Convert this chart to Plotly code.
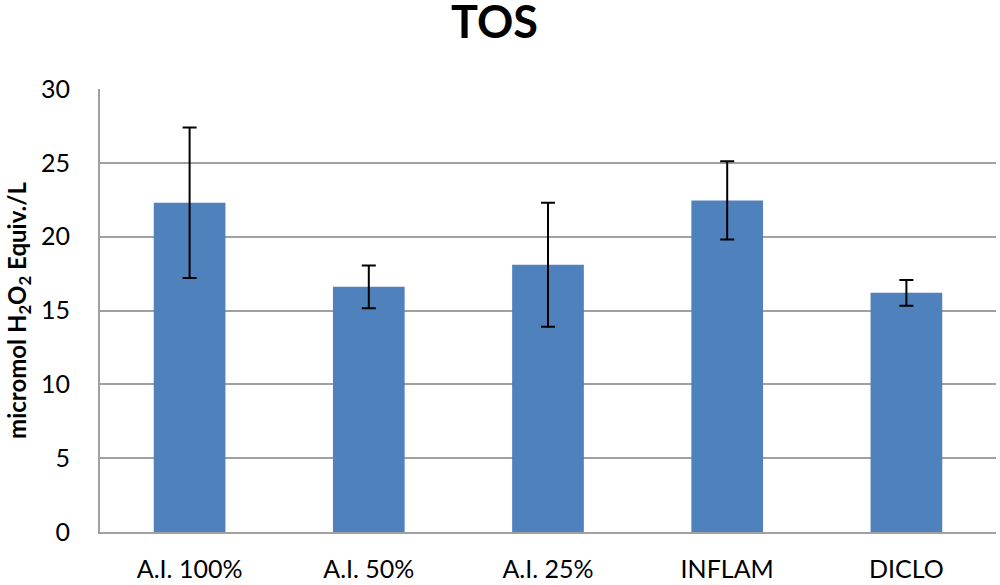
import plotly.graph_objects as go

groups = ['A.I. 100%', 'A.I. 50%', 'A.I. 25%', 'INFLAM', 'DICLO']
tos_mean = [22.3, 16.6, 18.1, 22.45, 16.2]
tos_err = [5.1, 1.45, 4.2, 2.65, 0.87]

fig = go.Figure()
fig.add_trace(go.Bar(
    x=groups,
    y=tos_mean,
    marker=dict(color='#4F81BD', line=dict(width=0)),
    error_y=dict(type='data', array=tos_err, color='black', thickness=2, width=7),
))

fig.update_layout(
    width=1000, height=585,
    margin=dict(l=100, r=4, t=89, b=53),
    paper_bgcolor='white',
    plot_bgcolor='white',
    font=dict(family='Lato, Open Sans, sans-serif', color='black'),
    title=dict(text='<b>TOS</b>', x=0.4945, xanchor='center', y=0.962, yanchor='middle',
               font=dict(size=45, color='black')),
    bargap=0.6,
    showlegend=False,
)
fig.update_xaxes(
    showline=True, linecolor='#A0A0A0', linewidth=2,
    ticks='', tickfont=dict(size=25), showgrid=False,
    ticklabelstandoff=14, automargin=False,
)
fig.update_yaxes(
    range=[0, 30], dtick=5,
    showline=True, linecolor='#A0A0A0', linewidth=2,
    showgrid=True, gridcolor='#A0A0A0', gridwidth=2,
    zeroline=False, ticks='', ticklabelstandoff=23,
    tickfont=dict(size=25), automargin=False,
    title=dict(text='<b>micromol H<sub>2</sub>O<sub>2</sub> Equiv./L</b>', font=dict(size=24), standoff=8),
)

# drop the default 8px body margin so the figure fills the window exactly
fig.write_html('out.html', config={'displayModeBar': False},
               post_script="document.body.style.margin='0';")
